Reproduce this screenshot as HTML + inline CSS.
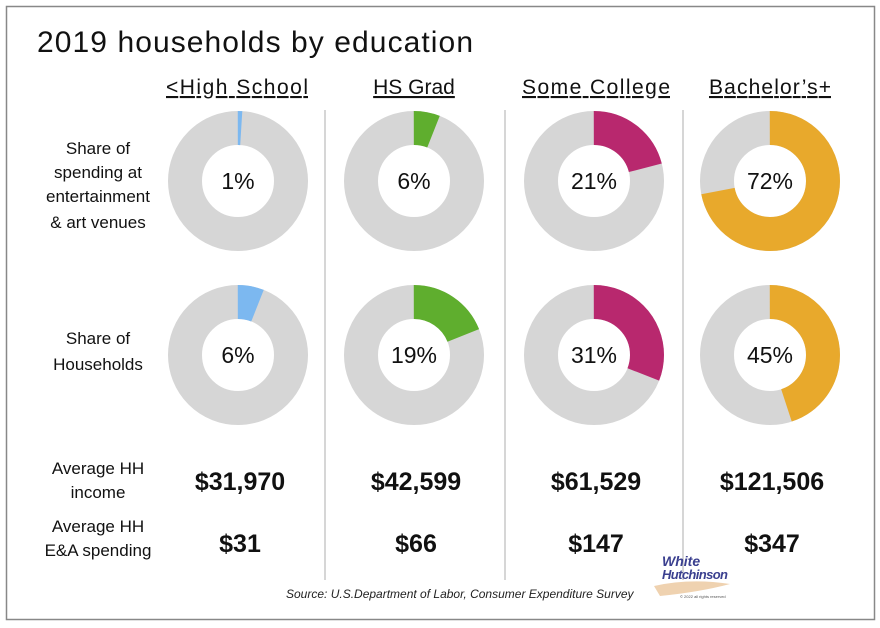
<!DOCTYPE html>
<html><head><style>
body{margin:0;background:#fff;}
svg{display:block;font-family:"Liberation Sans",sans-serif;}
</style></head><body>
<svg width="880" height="628" viewBox="0 0 880 628">
<rect x="0" y="0" width="880" height="628" fill="#fff"/>
<rect x="6.5" y="6.5" width="868" height="613" fill="#fff" stroke="#888" stroke-width="1.5"/>
<text x="37" y="52" font-size="30" fill="#111" textLength="436">2019 households by education</text>
<g font-size="21" fill="#111" text-anchor="middle" text-decoration="underline">
<text x="237" y="94" textLength="142">&lt;High School</text>
<text x="414" y="94">HS Grad</text>
<text x="596" y="94" textLength="148">Some College</text>
<text x="770" y="94" textLength="122">Bachelor’s+</text>
</g>
<g stroke="#bbb" stroke-width="1.2">
<line x1="325" y1="110" x2="325" y2="580"/>
<line x1="505" y1="110" x2="505" y2="580"/>
<line x1="683" y1="110" x2="683" y2="580"/>
</g>
<g font-size="17" fill="#111" text-anchor="middle">
<text x="98" y="154">Share of</text>
<text x="98" y="178">spending at</text>
<text x="98" y="202">entertainment</text>
<text x="98" y="228">&amp; art venues</text>
<text x="98" y="344">Share of</text>
<text x="98" y="370">Households</text>
<text x="98" y="474">Average HH</text>
<text x="98" y="498">income</text>
<text x="98" y="532">Average HH</text>
<text x="98" y="556">E&amp;A spending</text>
</g>
<g fill="none" stroke-width="34">
<circle cx="238" cy="181" r="53" stroke="#d6d6d6"/>
<circle cx="238" cy="181" r="53" stroke="#7cb8f0" pathLength="100" stroke-dasharray="1 99" transform="rotate(-90 238 181)"/>
<circle cx="414" cy="181" r="53" stroke="#d6d6d6"/>
<circle cx="414" cy="181" r="53" stroke="#5fae2e" pathLength="100" stroke-dasharray="6 94" transform="rotate(-90 414 181)"/>
<circle cx="594" cy="181" r="53" stroke="#d6d6d6"/>
<circle cx="594" cy="181" r="53" stroke="#b8286e" pathLength="100" stroke-dasharray="21 79" transform="rotate(-90 594 181)"/>
<circle cx="770" cy="181" r="53" stroke="#d6d6d6"/>
<circle cx="770" cy="181" r="53" stroke="#e8a92c" pathLength="100" stroke-dasharray="72 28" transform="rotate(-90 770 181)"/>
<circle cx="238" cy="355" r="53" stroke="#d6d6d6"/>
<circle cx="238" cy="355" r="53" stroke="#7cb8f0" pathLength="100" stroke-dasharray="6 94" transform="rotate(-90 238 355)"/>
<circle cx="414" cy="355" r="53" stroke="#d6d6d6"/>
<circle cx="414" cy="355" r="53" stroke="#5fae2e" pathLength="100" stroke-dasharray="19 81" transform="rotate(-90 414 355)"/>
<circle cx="594" cy="355" r="53" stroke="#d6d6d6"/>
<circle cx="594" cy="355" r="53" stroke="#b8286e" pathLength="100" stroke-dasharray="31 69" transform="rotate(-90 594 355)"/>
<circle cx="770" cy="355" r="53" stroke="#d6d6d6"/>
<circle cx="770" cy="355" r="53" stroke="#e8a92c" pathLength="100" stroke-dasharray="45 55" transform="rotate(-90 770 355)"/>
</g>
<g font-size="23" fill="#111" text-anchor="middle">
<text x="238" y="189">1%</text>
<text x="414" y="189">6%</text>
<text x="594" y="189">21%</text>
<text x="770" y="189">72%</text>
<text x="238" y="363">6%</text>
<text x="414" y="363">19%</text>
<text x="594" y="363">31%</text>
<text x="770" y="363">45%</text>
</g>
<g font-size="25" font-weight="bold" fill="#111" text-anchor="middle">
<text x="240" y="490">$31,970</text>
<text x="416" y="490">$42,599</text>
<text x="596" y="490">$61,529</text>
<text x="772" y="490">$121,506</text>
<text x="240" y="552">$31</text>
<text x="416" y="552">$66</text>
<text x="596" y="552">$147</text>
<text x="772" y="552">$347</text>
</g>
<text x="286" y="598" font-size="12" font-style="italic" fill="#222">Source: U.S.Department of Labor, Consumer Expenditure Survey</text>
<text x="662" y="566" font-size="14" font-style="italic" font-weight="bold" fill="#3a3f8f">White</text>
<text x="662" y="579" font-size="13" font-style="italic" font-weight="bold" fill="#3a3f8f" textLength="66">Hutchinson</text>
<path d="M654 586 Q690 578 730 584 Q700 592 660 596 Z" fill="#efd2b0"/>
<text x="680" y="598" font-size="4" fill="#555">© 2022 all rights reserved</text>
</svg>
</body></html>
